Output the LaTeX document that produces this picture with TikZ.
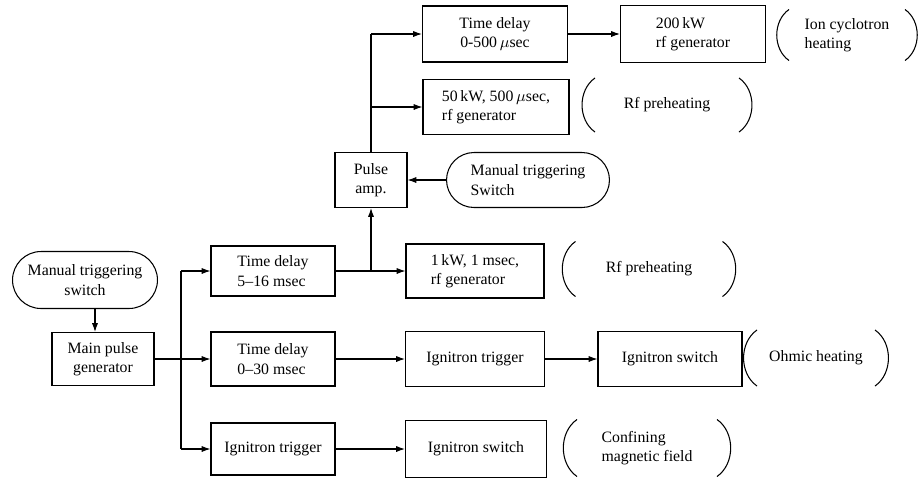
\documentclass[tikz,border=0pt]{standalone}
\usepackage{fontspec}
\setmainfont{Liberation Serif}
\usepackage{tikz}
\usetikzlibrary{arrows.meta,calc,positioning,shapes.misc}

\begin{document}
\begin{tikzpicture}[x=0.02cm,y=-0.02cm,>=Latex,
    font=\fontsize{9}{11}\selectfont,line width=0.6pt,
    box/.style={draw,rectangle,inner sep=2pt},
    pill/.style={draw,rounded rectangle,inner sep=2pt},
    paren/.style={inner sep=2pt},
    arr/.style={-{Latex[length=5pt,width=3.5pt]}}]
      \useasboundingbox (0,0) rectangle (920,478);
      \node[pill,minimum width=3.04cm,minimum height=1.14cm,align=center] (mts) at (85,280) {Manual triggering\\switch};
      \node[box,minimum width=2.04cm,minimum height=1.06cm,align=center] (mpg) at (103,359) {Main pulse\\generator};
      \node[box,minimum width=2.48cm,minimum height=1.0cm,align=left] (td1) at (273,271) {Time delay\\5--16 msec};
      \node[box,minimum width=2.48cm,minimum height=1.08cm,align=left] (td2) at (273,359) {Time delay\\0--30 msec};
      \node[box,minimum width=2.48cm,minimum height=1.04cm] (it1) at (273,449) {Ignitron trigger};
      \node[box,minimum width=2.76cm,minimum height=1.08cm,align=left] (rf1) at (475,271) {1\,kW, 1 msec,\\rf generator};
      \node[box,minimum width=2.78cm,minimum height=1.1cm] (it2) at (475,359) {Ignitron trigger};
      \node[box,minimum width=2.88cm,minimum height=1.1cm] (isw1) at (670,359) {Ignitron switch};
      \node[box,minimum width=2.82cm,minimum height=1.14cm] (isw2) at (476,449) {Ignitron switch};
      \node[box,minimum width=2.9cm,minimum height=1.12cm,align=center] (td3) at (495,34) {Time delay\\0-500\,$\mu$sec};
      \node[box,minimum width=2.9cm,minimum height=1.14cm,align=left] (rf3) at (693,34) {200\,kW\\rf generator};
      \node[box,minimum width=2.92cm,minimum height=1.1cm,align=left] (rf2) at (496,107) {50\,kW, 500\,$\mu$sec,\\rf generator};
      \node[box,minimum width=1.44cm,minimum height=1.1cm,align=center] (amp) at (371,180) {Pulse\\amp.};
      \node[pill,minimum width=3.4cm,minimum height=1.1cm,align=left] (mts2) at (528,180) {Manual triggering\\Switch};
      \node[paren,minimum width=2.3cm,minimum height=1.0cm,align=left] (ion) at (847,35) {Ion cyclotron\\heating};
      \node[paren,minimum width=2.86cm,minimum height=1.06cm] (pre1) at (667,105) {Rf preheating};
      \node[paren,minimum width=2.92cm,minimum height=1.08cm] (pre2) at (649,269) {Rf preheating};
      \node[paren,minimum width=2.34cm,minimum height=1.1cm] (ohm) at (816,358) {Ohmic heating};
      \node[paren,minimum width=2.78cm,minimum height=1.12cm,align=left] (conf) at (647,448) {Confining\\magnetic field};
      \foreach \n in {ion,pre1,pre2,ohm,conf} {
        \draw (\n.north west) to[bend right=55] (\n.south west);
        \draw (\n.north east) to[bend left=55] (\n.south east);
      }
      \coordinate (bus) at (181,0);
      \coordinate (m1) at ([xshift=0.2cm]mts.south);
      \draw[arr] (m1) -- (m1 |- mpg.north);
      \draw[arr] (mpg.east) -- (td2.west);
      \draw (bus |- td1) -- (bus |- it1);
      \draw[arr] (bus |- td1) -- (td1.west);
      \draw[arr] (bus |- it1) -- (it1.west);
      \draw[arr] (td1) -- (rf1);
      \draw[arr] (td1.east -| amp) -- (amp.south);
      \draw[arr] (mts2) -- (amp);
      \draw (amp.north) -- (amp |- td3);
      \draw[arr] (amp |- td3) -- (td3.west);
      \draw[arr] (amp |- rf2) -- (rf2.west);
      \draw[arr] (td3) -- (rf3);
      \draw[arr] (td2) -- (it2);
      \draw[arr] (it2) -- (isw1);
      \draw[arr] (it1) -- (isw2);
    \end{tikzpicture}
\end{document}
